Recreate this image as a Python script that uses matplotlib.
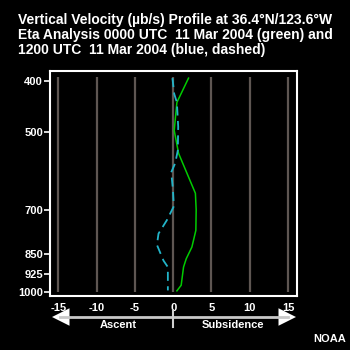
import matplotlib.pyplot as plt

plt.rcParams['font.family'] = ['Liberation Sans', 'DejaVu Sans']
plt.rcParams['font.weight'] = 'bold'

# Eta analysis, 0000 UTC (green)
p_00 = [395, 439, 496, 548, 652, 700, 766, 824, 867, 899, 973, 997]
w_00 = [2.0, 0.48, 0.13, 0.7, 2.9, 3.0, 2.96, 2.44, 1.7, 1.35, 1.04, 0.48]

# 1200 UTC (blue, dashed)
p_12 = [395, 423, 439, 488, 541, 572, 595, 641, 690, 733, 777, 816, 874, 899, 995]
w_12 = [-0.1, 0.13, 0.48, 0.65, 0.6, 0.26, -0.26, -0.04, 0.08, -0.83, -1.92, -2.13, -1.27, -0.7, -0.7]

x_ticks = [-15, -10, -5, 0, 5, 10, 15]
p_ticks = [400, 500, 700, 850, 925, 1000]

fig = plt.figure(figsize=(3.5, 3.5), dpi=100, facecolor='black')
ax = fig.add_axes([0.143, 0.154, 0.706, 0.643], facecolor='black')

for x in x_ticks:
    ax.vlines(x, 393, 1000, color='#5e5652', lw=1.6, zorder=1)

ax.plot(w_00, p_00, color='#00cc00', lw=1.1, zorder=3)
ax.plot(w_12, p_12, color='#22b4c8', lw=1.3, dashes=(5, 3), zorder=3)

ax.set_yscale('log')
ax.set_ylim(1020, 383)
ax.set_xlim(-16.1, 16.2)
ax.set_yticks(p_ticks)
ax.set_yticklabels([str(p) for p in p_ticks])
ax.minorticks_off()
ax.set_xticks(x_ticks)
ax.set_xticklabels([str(x) for x in x_ticks])
ax.tick_params(axis='y', colors='white', labelsize=8, length=4, width=1.2, pad=1)
ax.tick_params(axis='x', colors='white', labelsize=8, length=0, pad=5)
for s in ax.spines.values():
    s.set_color('white')
    s.set_linewidth(1.5)

fig.text(0.052, 0.962, 'Vertical Velocity (µb/s) Profile at 36.4°N/123.6°W\n'
         'Eta Analysis 0000 UTC  11 Mar 2004 (green) and\n'
         '1200 UTC  11 Mar 2004 (blue, dashed)',
         color='white', fontsize=10, fontweight='bold', va='top', ha='left',
         linespacing=1.08)

# ascent / subsidence arrow under the axis
y_arr = 1 - 317 / 350
fig.lines.append(plt.Line2D([60 / 350, 288 / 350], [y_arr, y_arr],
                            transform=fig.transFigure, color='#c8c8c8', lw=2))
for x_tip, x_base in [(52 / 350, 64 / 350), (296 / 350, 284 / 350)]:
    ax.annotate('', xy=(x_tip, y_arr), xycoords='figure fraction',
                xytext=(x_base, y_arr), textcoords='figure fraction',
                arrowprops=dict(arrowstyle='-|>,head_length=0.9,head_width=0.45',
                                color='white', lw=0, mutation_scale=14, shrinkA=0, shrinkB=0))
fig.lines.append(plt.Line2D([173 / 350, 173 / 350], [1 - 310 / 350, 1 - 327 / 350],
                            transform=fig.transFigure, color='#d0d0d0', lw=1.5))

fig.text(118 / 350, 1 - 325 / 350, 'Ascent', color='white', fontsize=8,
         fontweight='bold', ha='center', va='center')
fig.text(233 / 350, 1 - 325 / 350, 'Subsidence', color='white', fontsize=8,
         fontweight='bold', ha='center', va='center')
fig.text(330 / 350, 1 - 339 / 350, 'NOAA', color='white', fontsize=8,
         fontweight='bold', ha='center', va='center')

fig.savefig('out.png', dpi=100, facecolor='black')
